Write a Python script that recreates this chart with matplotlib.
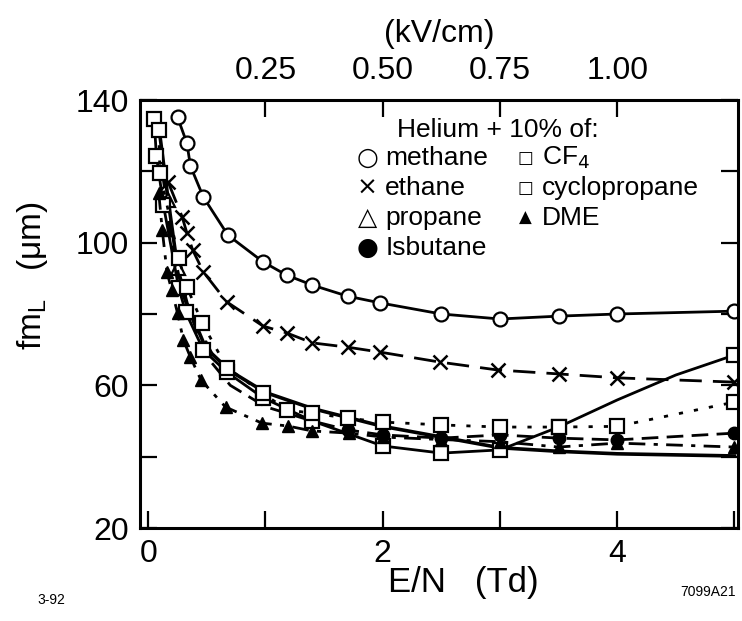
import matplotlib
matplotlib.use('Agg')
from matplotlib import pyplot as plt

plt.rcParams['font.family'] = ['Liberation Sans', 'DejaVu Sans']

# E/N (Td) vs fm_L (um)
methane_x = [0.25, 0.33, 0.36, 0.47, 0.68, 0.98, 1.18, 1.40, 1.70, 1.98, 2.50, 3.00, 3.50, 4.00, 5.00]
methane_y = [135.2, 127.9, 121.5, 112.8, 102.1, 94.6, 90.9, 88.1, 85.0, 83.1, 80.0, 78.6, 79.4, 80.0, 80.8]

ethane_x = [0.17, 0.29, 0.33, 0.38, 0.47, 0.67, 0.98, 1.18, 1.40, 1.70, 1.98, 2.49, 2.98, 3.50, 4.00, 5.00]
ethane_y = [117.0, 107.2, 102.7, 97.9, 91.8, 83.4, 76.6, 74.7, 71.9, 70.7, 69.3, 66.5, 64.3, 63.2, 62.1, 60.9]

propane_x = [0.10, 0.17, 0.25, 0.33, 0.49, 0.70, 1.00, 1.40, 1.70, 2.00, 2.50, 3.00, 3.50, 4.00, 5.00]
propane_y = [130.0, 112.0, 93.0, 83.0, 70.5, 64.0, 58.0, 53.5, 51.0, 48.5, 45.5, 42.5, 41.5, 40.8, 40.2]
propane_marked = [1, 2, 4]

isobutane_x = [0.12, 0.20, 0.30, 0.50, 0.70, 1.00, 1.40, 1.70, 2.00, 2.50, 3.00, 3.50, 4.00, 5.00]
isobutane_y = [120.0, 100.0, 85.0, 68.0, 60.0, 54.0, 50.0, 47.5, 46.1, 45.2, 46.1, 45.2, 44.7, 46.6]
isobutane_marked = [7, 8, 9, 10, 11, 12, 13]

cf4_x = [0.05, 0.07, 0.13, 0.26, 0.32, 0.47, 0.67, 0.98, 1.40, 2.00, 2.50, 3.00, 3.50, 4.00, 4.50, 5.00]
cf4_y = [134.7, 124.3, 110.5, 87.3, 80.5, 69.9, 63.7, 56.5, 50.0, 43.0, 41.0, 41.9, 48.3, 55.9, 62.9, 68.5]
cf4_marked = [0, 1, 2, 3, 4, 5, 6, 7, 8, 9, 10, 11, 12, 15]

cyclo_x = [0.09, 0.10, 0.26, 0.33, 0.46, 0.67, 0.98, 1.18, 1.40, 1.70, 2.00, 2.50, 3.00, 3.50, 4.00, 5.00]
cyclo_y = [131.6, 119.5, 95.7, 87.6, 77.5, 65.0, 57.8, 53.1, 52.2, 50.8, 49.7, 48.9, 48.3, 48.3, 48.5, 55.3]

dme_x = [0.09, 0.12, 0.16, 0.20, 0.25, 0.30, 0.36, 0.45, 0.66, 0.97, 1.19, 1.40, 1.71, 2.00, 2.50, 3.00, 3.50, 4.00, 5.00]
dme_y = [113.9, 103.5, 91.8, 86.7, 80.3, 72.7, 67.9, 61.5, 53.9, 49.4, 48.6, 47.2, 46.6, 45.5, 44.8, 44.2, 42.7, 43.8, 42.7]

legend_col1 = ['methane', 'ethane', 'propane', 'Isbutane']
legend_sym1 = ['○', '×', '△', '●']
legend_col2 = ['CF$_4$', 'cyclopropane', 'DME']
legend_sym2 = ['□', '□', '▲']

fig = plt.figure(figsize=(7.42, 6.21), dpi=100)
ax = fig.add_axes([140 / 742, 1 - 528 / 621, 598 / 742, 428 / 621])

lw = 2.0
ms = 10
ax.plot(methane_x, methane_y, '-', color='k', lw=lw, marker='o', ms=ms, mfc='white', mew=1.6)
ax.plot(ethane_x, ethane_y, color='k', lw=lw, ls=(0, (8, 4)), marker='x', ms=ms, mew=1.8)
ax.plot(propane_x, propane_y, '-', color='k', lw=2.6, marker='^', ms=ms, mfc='white', mew=1.6,
        markevery=propane_marked)
ax.plot(isobutane_x, isobutane_y, color='k', lw=lw, ls=(0, (6, 3)), marker='o', ms=9,
        mfc='k', markevery=isobutane_marked)
ax.plot(cf4_x, cf4_y, '-', color='k', lw=lw, marker='s', ms=ms, mfc='white', mew=1.6,
        markevery=cf4_marked)
ax.plot(cyclo_x, cyclo_y, color='k', lw=lw, ls=(0, (1.5, 4)), marker='s', ms=ms, mfc='white', mew=1.6)
ax.plot(dme_x, dme_y, color='k', lw=lw, ls=(0, (6, 3, 1.5, 3)), marker='^', ms=9, mfc='k')

ax.set_xlim(-0.07, 5.03)
ax.set_ylim(20, 140)
ax.set_xticks([0, 1, 2, 3, 4, 5])
ax.set_xticklabels(['0', '', '2', '', '4', ''])
ax.set_yticks([20, 40, 60, 80, 100, 120, 140])
ax.set_yticklabels(['20', '', '60', '', '100', '', '140'])
ax.tick_params(direction='in', length=12, width=1.6, labelsize=23, pad=8,
               right=True)
for s in ax.spines.values():
    s.set_linewidth(2.2)

ax.set_xlabel('E/N   (Td)', fontsize=25)
ax.xaxis.set_label_coords(0.54, -0.088)
ax.set_ylabel('fm$_\\mathregular{L}$   (μm)', fontsize=24)
ax.yaxis.set_label_coords(-0.15, 0.59)

top = ax.secondary_xaxis('top', functions=(lambda x: x * 0.25, lambda v: v / 0.25))
top.set_xticks([0.25, 0.50, 0.75, 1.00])
top.set_xticklabels(['0.25', '0.50', '0.75', '1.00'])
top.tick_params(direction='in', length=12, width=1.6, labelsize=23, pad=10)
top.set_xlabel('(kV/cm)', fontsize=23, labelpad=10)

# legend block drawn as text, as in the original
ax.text(0.43, 0.93, 'Helium + 10% of:', transform=ax.transAxes, fontsize=19, va='center')
rows_y = [0.865, 0.795, 0.725, 0.655]
for i, name in enumerate(legend_col1):
    ax.text(0.38, rows_y[i], legend_sym1[i], transform=ax.transAxes, fontsize=18,
            va='center', ha='center', family=['DejaVu Sans'])
    ax.text(0.41, rows_y[i], name, transform=ax.transAxes, fontsize=19, va='center')
for i, name in enumerate(legend_col2):
    ax.text(0.644, rows_y[i], legend_sym2[i], transform=ax.transAxes, fontsize=12,
            va='center', ha='center', family=['DejaVu Sans'])
    ax.text(0.672, rows_y[i], name, transform=ax.transAxes, fontsize=19, va='center')

fig.text(37 / 742, 1 - 600 / 621, '3-92', fontsize=10, va='center')
fig.text(708 / 742, 1 - 592 / 621, '7099A21', fontsize=10, va='center', ha='center')

fig.savefig('out.png', dpi=100)
